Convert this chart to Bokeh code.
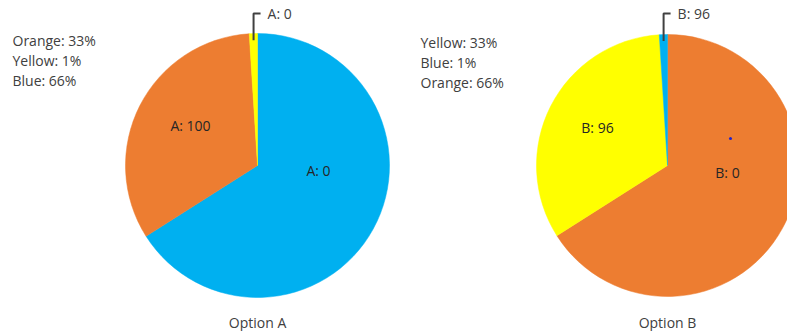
import math
from bokeh.plotting import figure
from bokeh.models import Range1d
from bokeh.core.properties import value
from bokeh.embed import file_html
from bokeh.resources import INLINE

# --- data -------------------------------------------------------------
categories_a = ["Blue", "Orange", "Yellow"]          # clockwise from 12 o'clock
shares_a = [66, 33, 1]
colors_a = ["#00B0F0", "#ED7D31", "#FFFF00"]
slice_labels_a = ["A: 0", "A: 100", "A: 0"]
legend_a = ["Orange: 33%", "Yellow: 1%", "Blue: 66%"]
title_a = "Option A"

categories_b = ["Orange", "Yellow", "Blue"]
shares_b = [66, 33, 1]
colors_b = ["#ED7D31", "#FFFF00", "#00B0F0"]
slice_labels_b = ["B: 0", "B: 96", "B: 96"]
legend_b = ["Yellow: 33%", "Blue: 1%", "Orange: 66%"]
title_b = "Option B"

W, H = 787, 331
FONT = value("Open Sans")
SIZE = "14px"
TEXT = "#404040"


def Y(py):
    return H - py


p = figure(width=W, height=H, output_backend="svg", toolbar_location=None,
           x_range=Range1d(0, W), y_range=Range1d(0, H),
           min_border=0, min_border_left=0, min_border_right=0,
           min_border_top=0, min_border_bottom=0)
p.axis.visible = False
p.grid.visible = False
p.outline_line_color = None
p.background_fill_color = "white"
p.border_fill_color = "white"


def pie(cx, cy, r, shares, colors, labels, inner_pos, legend, lx, ly, title):
    total = float(sum(shares))
    starts, ends, mids = [], [], []
    acc = 0.0
    for s in shares:
        a0 = math.pi / 2 - 2 * math.pi * acc / total
        acc += s
        a1 = math.pi / 2 - 2 * math.pi * acc / total
        starts.append(a0)
        ends.append(a1)
        mids.append((a0 + a1) / 2)
    p.wedge(x=[cx] * len(shares), y=[Y(cy)] * len(shares), radius=r,
            start_angle=starts, end_angle=ends, direction="clock",
            fill_color=colors, line_color=colors, line_width=0.5)

    # labels inside the two large slices
    for i, (dx, dy) in inner_pos.items():
        p.text(x=[cx + dx], y=[Y(cy + dy)], text=[labels[i]],
               text_font=FONT, text_font_size=SIZE, text_color="#262626",
               text_align="center", text_baseline="middle")

    # call-out for the thin slice
    k = len(shares) - 1
    ax = cx + 0.95 * r * math.cos(mids[k])
    ay = cy - 0.95 * r * math.sin(mids[k])
    p.line(x=[ax, ax, ax + 7], y=[Y(ay), Y(13), Y(13)],
           line_color="#404040", line_width=2)
    p.text(x=[ax + 14], y=[Y(13)], text=[labels[k]],
           text_font=FONT, text_font_size=SIZE, text_color=TEXT,
           text_align="left", text_baseline="middle")

    # percentage key
    p.text(x=[lx] * len(legend), y=[Y(ly + 20 * i) for i in range(len(legend))],
           text=legend, text_font=FONT, text_font_size=SIZE,
           text_color=TEXT, text_align="left", text_baseline="middle")

    p.text(x=[cx], y=[Y(322)], text=[title], text_font=FONT,
           text_font_size=SIZE, text_color=TEXT,
           text_align="center", text_baseline="middle")


pie(257, 165, 132, shares_a, colors_a, slice_labels_a,
    {0: (61, 5), 1: (-67, -40)}, legend_a, 12, 40, title_a)
pie(667, 165, 131, shares_b, colors_b, slice_labels_b,
    {0: (60, 7), 1: (-70, -38)}, legend_b, 420, 42, title_b)

# stray marker inside the orange slice of Option B
p.scatter(x=[730], y=[Y(138)], size=3, fill_color="#2222CC", line_color=None)

open("out.html", "w").write(file_html(p, INLINE))
